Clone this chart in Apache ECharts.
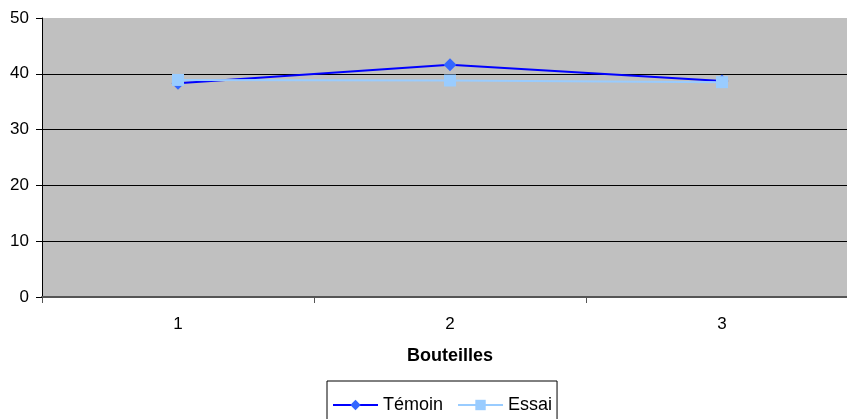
<!DOCTYPE html>
<html>
<head>
<meta charset="utf-8">
<script src="https://cdn.jsdelivr.net/npm/echarts@6/dist/echarts.min.js"></script>
<style>
  html, body { margin: 0; padding: 0; background: #fff; overflow: hidden; }
  /* la zone de tracé déborde à droite, comme dans l'original */
  #main { width: 858px; height: 419px; }
</style>
</head>
<body>
<div id="main"></div>
<script>
// données
const categories = ['1', '2', '3'];
const temoin = [38.3, 41.6, 38.7];
const essai = [38.9, 38.8, 38.5];

const chart = echarts.init(document.getElementById('main'));
chart.setOption({
  animation: false,
  textStyle: { fontFamily: 'Liberation Sans, Arial, sans-serif' },
  grid: {
    left: 42, right: 0, top: 18, bottom: 122,
    show: true, backgroundColor: '#c0c0c0', borderWidth: 0
  },
  legend: {
    top: 381,
    left: 327,
    itemWidth: 45,
    itemHeight: 13,
    itemGap: 14,
    padding: [15, 5, 12, 5],
    borderColor: '#000',
    borderWidth: 1,
    borderRadius: 0,
    textStyle: { fontSize: 18, color: '#000' },
    data: ['Témoin', 'Essai']
  },
  xAxis: {
    type: 'category',
    data: categories,
    boundaryGap: true,
    name: 'Bouteilles',
    nameLocation: 'middle',
    nameGap: 50,
    nameTextStyle: { fontSize: 18, fontWeight: 'bold', color: '#000' },
    axisLine: { lineStyle: { color: '#555', width: 2 } },
    axisTick: { show: true, length: 6, lineStyle: { color: '#555' } },
    axisLabel: { fontSize: 17, color: '#000', margin: 19 }
  },
  yAxis: {
    type: 'value',
    min: 0, max: 50, interval: 10,
    axisLine: { show: true, lineStyle: { color: '#000' } },
    axisTick: { show: true, length: 6, lineStyle: { color: '#000' } },
    axisLabel: { fontSize: 17, color: '#000', margin: 13 },
    splitLine: {
      show: true,
      lineStyle: { color: ['#000', '#000', '#000', '#000', '#000', '#c0c0c0'], width: 1 }
    }
  },
  series: [
    {
      name: 'Témoin',
      type: 'line',
      data: temoin,
      symbol: 'diamond',
      symbolSize: 13,
      itemStyle: { color: '#3366ff' },
      lineStyle: { color: '#0000ff', width: 2 }
    },
    {
      name: 'Essai',
      type: 'line',
      data: essai,
      symbol: 'rect',
      symbolSize: 12,
      itemStyle: { color: '#99ccff' },
      lineStyle: { color: '#99ccff', width: 2 }
    }
  ]
});
</script>
</body>
</html>
